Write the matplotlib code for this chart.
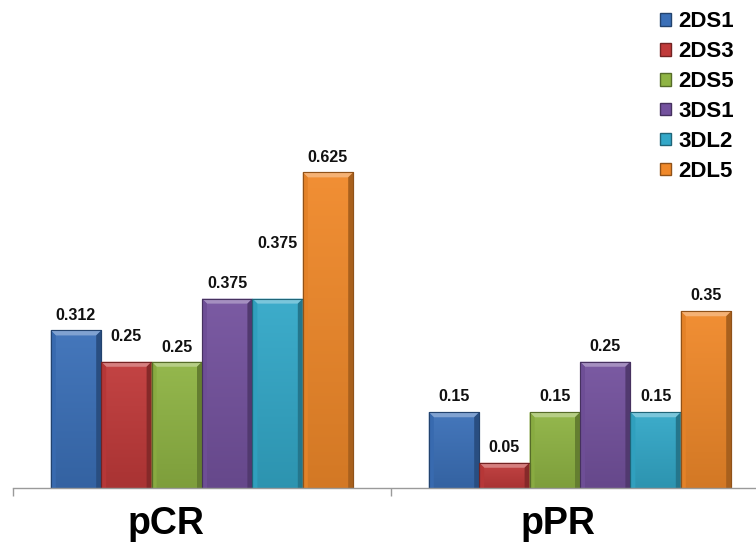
import numpy as np
import matplotlib
matplotlib.use("Agg")
import matplotlib.pyplot as plt
import matplotlib.transforms as mtransforms
from matplotlib.colors import to_rgb, LinearSegmentedColormap
from matplotlib.patches import Polygon, Patch

# Data
categories = ["pCR", "pPR"]
series = ["2DS1", "2DS3", "2DS5", "3DS1", "3DL2", "2DL5"]
values = {
    "2DS1": [0.312, 0.15],
    "2DS3": [0.25, 0.05],
    "2DS5": [0.25, 0.15],
    "3DS1": [0.375, 0.25],
    "3DL2": [0.375, 0.15],
    "2DL5": [0.625, 0.35],
}
labels = {
    "2DS1": ["0.312", "0.15"],
    "2DS3": ["0.25", "0.05"],
    "2DS5": ["0.25", "0.15"],
    "3DS1": ["0.375", "0.25"],
    "3DL2": ["0.375", "0.15"],
    "2DL5": ["0.625", "0.35"],
}
colors = {
    "2DS1": "#3b70b8",
    "2DS3": "#c03a3a",
    "2DS5": "#8fb444",
    "3DS1": "#74529e",
    "3DL2": "#33a8c8",
    "2DL5": "#f0892a",
}
# label offsets above bar tops (points)
label_offsets = {
    "2DS1": [11, 11],
    "2DS3": [18, 11],
    "2DS5": [10, 11],
    "3DS1": [11, 11],
    "3DL2": [40, 11],
    "2DL5": [11, 11],
}
# horizontal shift of the category labels (pixels)
cat_label_shift = [-36, -22]

FONT = "Liberation Sans"

W, H = 756, 543
fig = plt.figure(figsize=(W / 100, H / 100), dpi=100)
base_y = 488
px_per_unit = 505.0
left_px = 13
cat_px = 378.0
ax = fig.add_axes([left_px / W, (H - base_y) / H, 2 * cat_px / W, (base_y - 5) / H])
ax.set_xlim(-0.5, 1.5)
ax.set_ylim(0, (base_y - 5) / px_per_unit)

n = len(series)
group_w = 0.8
bw = group_w / n
x = np.arange(len(categories))

dxp = 1.0 / cat_px          # data units per pixel in x
dyp = 1.0 / px_per_unit     # data units per pixel in y


def shade(c, f):
    r = np.array(to_rgb(c))
    if f >= 0:
        return tuple(r + (1 - r) * f)
    return tuple(r * (1 + f))


for i, s in enumerate(series):
    xs = x - group_w / 2 + bw * (i + 0.5)
    bars = ax.bar(xs, values[s], width=bw, color=colors[s],
                  edgecolor=shade(colors[s], -0.35), linewidth=0.8, zorder=2)
    for b, lab, off in zip(bars, labels[s], label_offsets[s]):
        x0, y0 = b.get_x(), b.get_y()
        w, h = b.get_width(), b.get_height()
        # vertical gradient fill
        cmap = LinearSegmentedColormap.from_list(
            "g", [shade(colors[s], -0.12), shade(colors[s], 0.05)])
        grad = np.linspace(0, 1, 64).reshape(-1, 1)
        im = ax.imshow(grad, cmap=cmap, origin="lower", aspect="auto",
                       extent=(x0, x0 + w, y0, y0 + h), zorder=2.1,
                       interpolation="bicubic")
        im.set_clip_path(b)
        # bevel edges
        bx, by = 5 * dxp, 5 * dyp
        top = Polygon([(x0, y0 + h), (x0 + w, y0 + h), (x0 + w - bx, y0 + h - by),
                       (x0 + bx, y0 + h - by)], closed=True,
                      facecolor=shade(colors[s], 0.35), edgecolor="none", zorder=2.2)
        lft = Polygon([(x0, y0), (x0, y0 + h), (x0 + bx, y0 + h - by), (x0 + bx, y0)],
                      closed=True, facecolor=shade(colors[s], -0.05),
                      edgecolor="none", zorder=2.2)
        rgt = Polygon([(x0 + w, y0), (x0 + w, y0 + h), (x0 + w - bx, y0 + h - by),
                       (x0 + w - bx, y0)], closed=True,
                      facecolor=shade(colors[s], -0.3), edgecolor="none", zorder=2.2)
        for p in (top, lft, rgt):
            ax.add_patch(p)
        ax.plot([x0, x0 + w, x0 + w, x0, x0], [y0, y0, y0 + h, y0 + h, y0],
                color=shade(colors[s], -0.4), lw=0.8, zorder=2.3)
        ax.annotate(lab, (x0 + w / 2, y0 + h), xytext=(0, off),
                    textcoords="offset points", ha="center", va="center",
                    fontsize=11.5, fontweight="bold", family=FONT, color="#111111",
                    zorder=3)

# axes styling
for sp in ("top", "right", "left"):
    ax.spines[sp].set_visible(False)
ax.spines["bottom"].set_color("#9a9a9a")
ax.spines["bottom"].set_linewidth(1.0)
ax.set_yticks([])
ax.set_xticks(x)
ax.set_xticklabels(categories, fontsize=27, fontweight="bold", family=FONT)
ax.tick_params(axis="x", which="major", length=0, pad=13)
for lbl, dx in zip(ax.get_xticklabels(), cat_label_shift):
    lbl.set_transform(lbl.get_transform() +
                      mtransforms.ScaledTranslation(dx / 100, 0, fig.dpi_scale_trans))
ax.set_xticks([-0.5, 0.5, 1.5], minor=True)
ax.tick_params(axis="x", which="minor", length=6, color="#9a9a9a", width=1.0)

# legend
handles = [Patch(facecolor=colors[s], edgecolor=shade(colors[s], -0.4), label=s)
           for s in series]
fig.legend(handles=handles, loc="upper left", bbox_to_anchor=(647 / W, 1 + 2 / H),
           frameon=False, prop={"family": FONT, "weight": "bold", "size": 16},
           handlelength=0.5, handleheight=0.5, handletextpad=0.3,
           labelspacing=0.4, borderpad=0.1)

fig.savefig("out.png", dpi=100)
